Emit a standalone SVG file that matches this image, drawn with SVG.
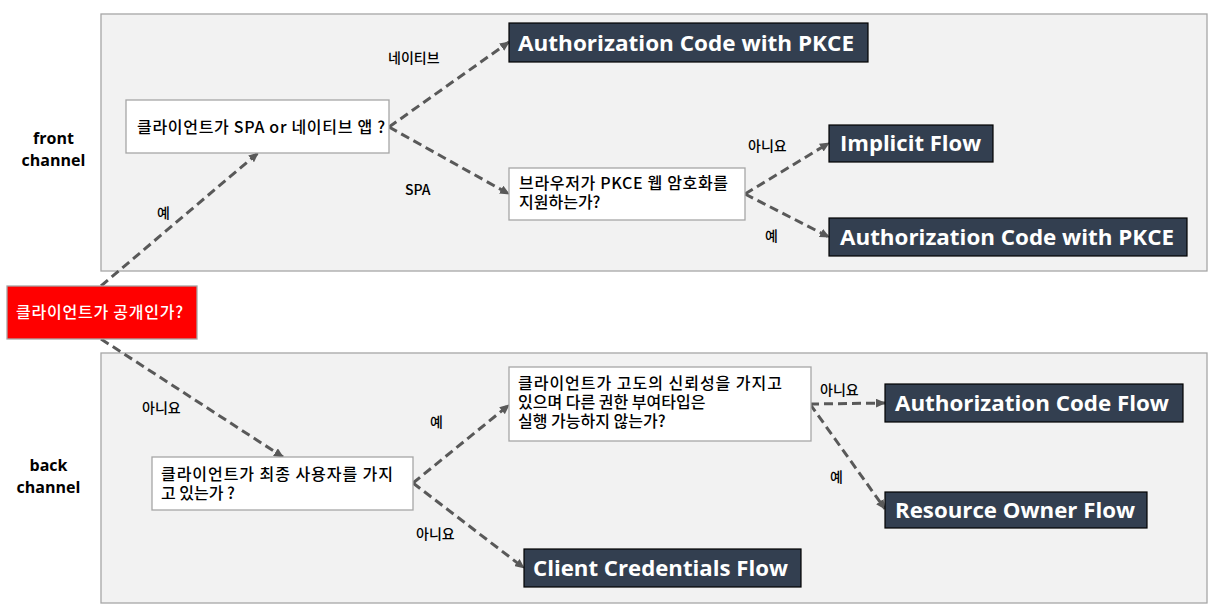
<svg xmlns="http://www.w3.org/2000/svg" width="1218" height="606" viewBox="0 0 1218 606">
  <style>
    .panel { fill: #f2f2f2; stroke: #a6a6a6; stroke-width: 1.3; }
    .q { fill: #ffffff; stroke: #a6a6a6; stroke-width: 1.3; }
    .res { fill: #333f50; stroke: #000000; stroke-width: 1.2; }
    .start { fill: #ff0000; stroke: #a6a6a6; stroke-width: 1.3; }
    .kr { font-family: "Noto Sans CJK KR", "Noto Sans", sans-serif; font-size: 16px; font-weight: 500; fill: #000000; }
    .lbl { font-family: "Noto Sans CJK KR", "Noto Sans", sans-serif; font-size: 14px; font-weight: 500; fill: #000000; }
    .ch { font-family: "Open Sans", "Noto Sans", sans-serif; font-size: 16px; font-weight: bold; fill: #000000; text-anchor: middle; }
    .rt { font-family: "Open Sans", "Noto Sans", sans-serif; font-size: 22px; font-weight: bold; fill: #ffffff; }
    .link { fill: none; stroke: #595959; stroke-width: 3; stroke-dasharray: 9 5; marker-end: url(#arrow); }
  </style>
  <defs>
    <marker id="arrow" markerUnits="userSpaceOnUse" markerWidth="10" markerHeight="9" refX="9" refY="4.5" orient="auto">
      <path d="M0,0 L10,4.5 L0,9 z" fill="#595959"/>
    </marker>
  </defs>

  <!-- channel panels -->
  <g id="front-panel">
    <rect class="panel" x="101" y="14" width="1106" height="257"/>
    <text class="ch" y="144"><tspan x="53.5">front</tspan><tspan x="53.5" dy="22">channel</tspan></text>
  </g>
  <g id="back-panel">
    <rect class="panel" x="101" y="353" width="1106" height="250"/>
    <text class="ch" y="471"><tspan x="48.5">back</tspan><tspan x="48.5" dy="22">channel</tspan></text>
  </g>

  <!-- connectors -->
  <g id="connectors">
    <path class="link" d="M101,286 L258,153"/>
    <path class="link" d="M101,339 L283,457"/>
    <path class="link" d="M389,127 L509,42"/>
    <path class="link" d="M389,127 L509,194"/>
    <path class="link" d="M745,194 L829,143"/>
    <path class="link" d="M745,194 L829,237"/>
    <path class="link" d="M413,483 L509,405"/>
    <path class="link" d="M413,483 L524,568"/>
    <path class="link" d="M810,404 L885,403"/>
    <path class="link" d="M810,404 L885,509"/>
  </g>

  <!-- connector labels -->
  <g id="labels">
    <text class="lbl" x="388" y="63">네이티브</text>
    <text class="lbl" x="405" y="195">SPA</text>
    <text class="lbl" x="748" y="151">아니요</text>
    <text class="lbl" x="765" y="241">예</text>
    <text class="lbl" x="157" y="218">예</text>
    <text class="lbl" x="142" y="413">아니요</text>
    <text class="lbl" x="430" y="427">예</text>
    <text class="lbl" x="416" y="539">아니요</text>
    <text class="lbl" x="820" y="395">아니요</text>
    <text class="lbl" x="830" y="482">예</text>
  </g>

  <!-- start node -->
  <g id="is-public">
    <rect class="start" x="7" y="286" width="190" height="53"/>
    <text class="kr" x="16" y="318" style="fill:#ffffff" textLength="167">클라이언트가 공개인가?</text>
  </g>

  <!-- front channel questions -->
  <g id="spa-or-native">
    <rect class="q" x="126" y="100" width="263" height="53"/>
    <text class="kr" x="137" y="133" textLength="248">클라이언트가 SPA or 네이티브 앱 ?</text>
  </g>
  <g id="pkce-support">
    <rect class="q" x="509" y="168" width="236" height="52"/>
    <text class="kr" y="189"><tspan x="519" textLength="209">브라우저가 PKCE 웹 암호화를</tspan><tspan x="519" dy="19">지원하는가?</tspan></text>
  </g>

  <!-- front channel results -->
  <g id="auth-code-pkce-native">
    <rect class="res" x="509" y="23" width="359" height="39"/>
    <text class="rt" x="518" y="51" textLength="336" lengthAdjust="spacingAndGlyphs">Authorization Code with PKCE</text>
  </g>
  <g id="implicit-flow">
    <rect class="res" x="829" y="125" width="164" height="37"/>
    <text class="rt" x="840" y="151" textLength="141" lengthAdjust="spacingAndGlyphs">Implicit Flow</text>
  </g>
  <g id="auth-code-pkce-spa">
    <rect class="res" x="829" y="218" width="358" height="38"/>
    <text class="rt" x="840" y="245" textLength="334" lengthAdjust="spacingAndGlyphs">Authorization Code with PKCE</text>
  </g>

  <!-- back channel questions -->
  <g id="has-end-user">
    <rect class="q" x="152" y="457" width="261" height="53"/>
    <text class="kr" y="480"><tspan x="161" textLength="232">클라이언트가 최종 사용자를 가지</tspan><tspan x="161" dy="19">고 있는가 ?</tspan></text>
  </g>
  <g id="highly-trusted">
    <rect class="q" x="509" y="367" width="302" height="74"/>
    <text class="kr" y="389"><tspan x="518" textLength="264">클라이언트가 고도의 신뢰성을 가지고</tspan><tspan x="518" dy="19">있으며 다른 권한 부여타입은</tspan><tspan x="518" dy="19">실행 가능하지 않는가?</tspan></text>
  </g>

  <!-- back channel results -->
  <g id="auth-code-flow">
    <rect class="res" x="885" y="384" width="298" height="38"/>
    <text class="rt" x="895" y="411" textLength="274" lengthAdjust="spacingAndGlyphs">Authorization Code Flow</text>
  </g>
  <g id="resource-owner-flow">
    <rect class="res" x="885" y="492" width="262" height="36"/>
    <text class="rt" x="895" y="518" textLength="240" lengthAdjust="spacingAndGlyphs">Resource Owner Flow</text>
  </g>
  <g id="client-credentials-flow">
    <rect class="res" x="524" y="549" width="277" height="38"/>
    <text class="rt" x="533" y="576" textLength="255" lengthAdjust="spacingAndGlyphs">Client Credentials Flow</text>
  </g>
</svg>
